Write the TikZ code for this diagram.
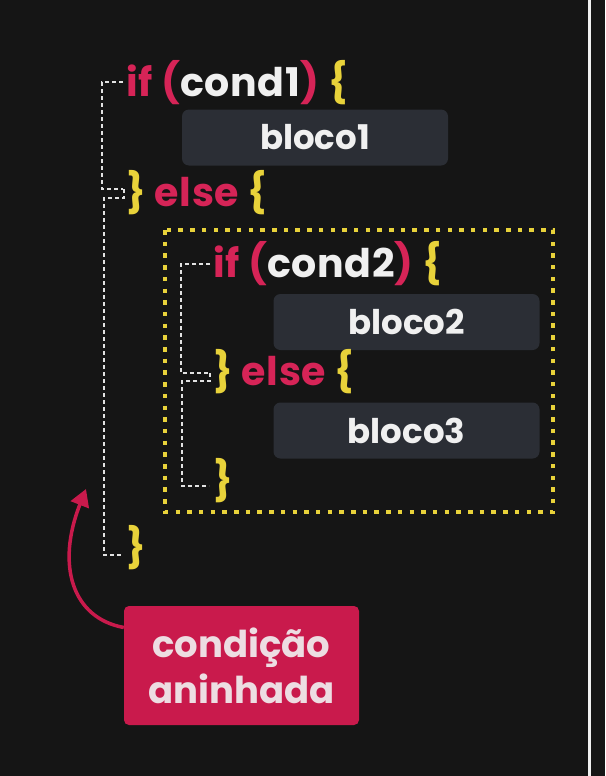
\documentclass[tikz,border=0pt]{standalone}
\usepackage{fontspec}
\setmainfont{Poppins}
\usetikzlibrary{arrows.meta}
\definecolor{bg}{HTML}{151515}
\definecolor{kwred}{HTML}{D62457}
\definecolor{bryel}{HTML}{E8D23A}
\definecolor{condw}{HTML}{F0F0F0}
\definecolor{dashw}{HTML}{E2E2E2}
\definecolor{blkfill}{HTML}{2B2E35}
\definecolor{notered}{HTML}{C91A4C}
\definecolor{notetxt}{HTML}{EDDDE2}
\newcommand{\kw}[1]{\textcolor{kwred}{#1}}
\newcommand{\br}[1]{\textcolor{bryel}{#1}}

\begin{document}
\begin{tikzpicture}[x=1pt, y=-1pt, >={Triangle[length=17pt,width=19pt]},
    code/.style={anchor=base west, inner sep=0pt, text=condw,
        font=\fontsize{39.5}{44}\selectfont\bfseries\addfontfeatures{LetterSpace=1.5}},
    bloco/.style={fill=blkfill, rounded corners=7pt, minimum width=266pt,
        minimum height=56pt, text=condw, font=\fontsize{34}{40}\selectfont\bfseries},
    brk/.style={draw=dashw, line width=2pt, dash pattern=on 4pt off 3pt}]
    \useasboundingbox (0,0) rectangle (605,776);
    \fill[bg] (0,0) rectangle (605,776);
    \fill[condw] (587.5,0) rectangle (591,776);

    \node[code] (if1) at (126,96) {\kw{if} \kw{(}cond1\kw{)} \br{\{}};
    \node[bloco] (b1) at (315,137.5) {bloco1};
    \node[code] (else1) at (126,206) {\br{\}} \kw{else} \br{\{}};
    \node[code] (if2) at (213,277) {\kw{if} \kw{(}cond2\kw{)} \br{\{}};
    \node[bloco] (b2) at (406.5,322) {bloco2};
    \node[code] (else2) at (213,385) {\br{\}} \kw{else} \br{\{}};
    \node[bloco] (b3) at (406.5,430.5) {bloco3};
    \node[code] (end2) at (213,494) {\br{\}}};
    \node[code] (end1) at (126,561) {\br{\}}};

    \draw[bryel, line width=4.5pt, dash pattern=on 4.5pt off 7.2pt] (165,230) rectangle (553,512);

    \draw[brk] ([shift={(-3pt,14pt)}]if1.base west) -| ([shift={(-24pt,17pt)}]else1.base west) -- ++(21,0);
    \draw[brk] ([shift={(-2pt,17pt)}]else1.base west) -- ++(0,9) -- ++(-20,0) |- ([shift={(-4pt,6pt)}]end1.base west);
    \draw[brk] ([shift={(-3pt,13pt)}]if2.base west) -| ([shift={(-32pt,12pt)}]else2.base west) -- ++(29,0);
    \draw[brk] ([shift={(-3pt,12pt)}]else2.base west) -- ++(0,8) -- ++(-28,0) |- ([shift={(-4pt,8pt)}]end2.base west);

    \node[fill=notered, rounded corners=5pt, minimum width=235pt, minimum height=119pt,
        text=notetxt, align=center, font=\fontsize{37}{46}\selectfont\bfseries]
        (note) at (241.5,665.5) {condição\\aninhada};
    \coordinate (tip) at (86,489);
    \draw[->, notered, line width=3.5pt] ([yshift=38pt]note.west) .. controls (72,618) and (56,565) .. (tip);
\end{tikzpicture}
\end{document}
